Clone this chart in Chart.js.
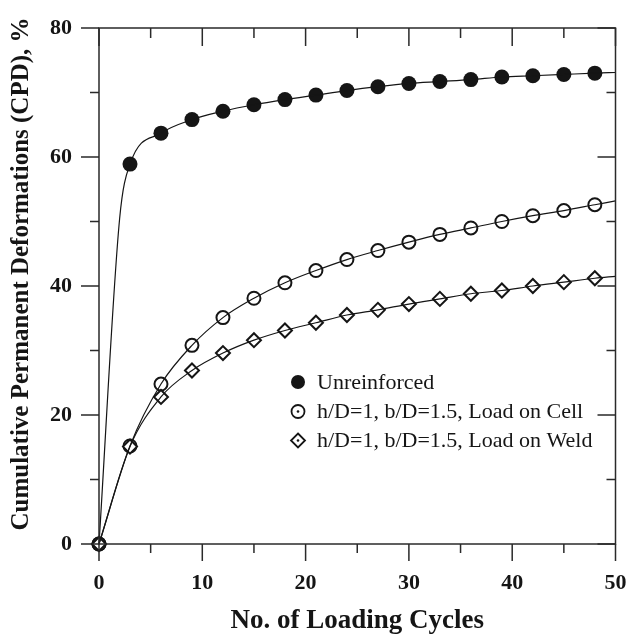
<!DOCTYPE html>
<html>
<head>
<meta charset="utf-8">
<script src="https://cdn.jsdelivr.net/npm/chart.js@4"></script>
<style>
  html, body { margin: 0; padding: 0; background: #fff; }
  #wrap { width: 628px; height: 636px; }
</style>
</head>
<body>
<div id="wrap"><canvas id="cpd"></canvas></div>
<script>
// loading cycles where markers were plotted
const cycles = [0, 3, 6, 9, 12, 15, 18, 21, 24, 27, 30, 33, 36, 39, 42, 45, 48];
const unreinforced = [0, 58.9, 63.7, 65.8, 67.1, 68.1, 68.9, 69.6, 70.3, 70.9, 71.4, 71.7, 72.0, 72.4, 72.6, 72.8, 73.0];
const loadOnCell = [0, 15.2, 24.8, 30.8, 35.1, 38.1, 40.5, 42.4, 44.1, 45.5, 46.8, 48.0, 49.0, 50.0, 50.9, 51.7, 52.6];
const loadOnWeld = [0, 15.1, 22.8, 26.9, 29.6, 31.6, 33.1, 34.3, 35.5, 36.3, 37.2, 38.0, 38.8, 39.3, 40.0, 40.6, 41.2];

// extra points of the fitted curves (no marker drawn there)
const unreinforcedCurveExtra = [[2, 50.5], [50, 73.1]];
const loadOnCellCurveExtra = [[50, 53.2]];
const loadOnWeldCurveExtra = [[50, 41.5]];

const seriesLabels = ['Unreinforced', 'h/D=1, b/D=1.5, Load on Cell', 'h/D=1, b/D=1.5, Load on Weld'];
const xTicks = [0, 10, 20, 30, 40, 50];
const yTicks = [0, 20, 40, 60, 80];
const yTitle = 'Cumulative Permanent Deformations (CPD), %';

const serif = '"Liberation Serif", "Times New Roman", serif';
const ink = '#151515';

const toPoints = (ys) => cycles.map((c, i) => ({ x: c, y: ys[i] }));
const curvePoints = (ys, extra) =>
    toPoints(ys).concat(extra.map(([x, y]) => ({ x, y }))).sort((a, b) => a.x - b.x);

// frame with inward ticks on top/right and outward ticks on bottom/left
const frameTicks = {
    id: 'frameTicks',
    afterDatasetsDraw(chart) {
        const { ctx, chartArea: a, scales: { x, y } } = chart;
        ctx.save();
        ctx.strokeStyle = '#2a2a2a';
        ctx.lineWidth = 1.5;
        ctx.strokeRect(a.left, a.top, a.right - a.left, a.bottom - a.top);
        ctx.beginPath();
        for (let v = x.min; v <= x.max; v += 5) {
            const px = x.getPixelForValue(v);
            const major = v % 10 === 0;
            ctx.moveTo(px, a.bottom);
            ctx.lineTo(px, a.bottom + (major ? 17 : 9));
            ctx.moveTo(px, a.top);
            ctx.lineTo(px, a.top + (major ? 18 : 10));
        }
        for (let v = y.min; v <= y.max; v += 10) {
            const py = y.getPixelForValue(v);
            const major = v % 20 === 0;
            ctx.moveTo(a.left, py);
            ctx.lineTo(a.left - (major ? 18 : 9), py);
            ctx.moveTo(a.right, py);
            ctx.lineTo(a.right - (major ? 18 : 9), py);
        }
        ctx.stroke();

        // rotated y title, sits a little above the plot centre like the original
        ctx.fillStyle = ink;
        ctx.font = 'bold 25px ' + serif;
        ctx.textAlign = 'center';
        ctx.textBaseline = 'middle';
        ctx.translate(22, 274);
        ctx.rotate(-Math.PI / 2);
        ctx.fillText(yTitle, 0, 0);
        ctx.restore();
    }
};

// legend inside the plot, markers with a centre dot like the original
const innerLegend = {
    id: 'innerLegend',
    afterDraw(chart) {
        const { ctx } = chart;
        const mx = 298, tx = 317;
        const rows = [382, 411.5, 440.5];
        ctx.save();
        ctx.fillStyle = ink;
        ctx.strokeStyle = ink;
        ctx.lineWidth = 1.8;
        // filled circle
        ctx.beginPath();
        ctx.arc(mx, rows[0], 7, 0, Math.PI * 2);
        ctx.fill();
        // open circle with dot
        ctx.beginPath();
        ctx.arc(mx, rows[1], 6.5, 0, Math.PI * 2);
        ctx.stroke();
        ctx.beginPath();
        ctx.arc(mx, rows[1], 1.3, 0, Math.PI * 2);
        ctx.fill();
        // diamond with dot
        ctx.beginPath();
        ctx.moveTo(mx, rows[2] - 7);
        ctx.lineTo(mx + 7, rows[2]);
        ctx.lineTo(mx, rows[2] + 7);
        ctx.lineTo(mx - 7, rows[2]);
        ctx.closePath();
        ctx.stroke();
        ctx.beginPath();
        ctx.arc(mx, rows[2], 1.3, 0, Math.PI * 2);
        ctx.fill();

        ctx.font = '22px ' + serif;
        ctx.textBaseline = 'middle';
        ctx.textAlign = 'left';
        seriesLabels.forEach((t, i) => ctx.fillText(t, tx, rows[i] + 1));
        ctx.restore();
    }
};

const lineStyle = {
    borderColor: ink,
    borderWidth: 1.2,
    pointRadius: 0,
    showLine: true,
    cubicInterpolationMode: 'monotone',
    fill: false,
    clip: false,
};

const markerStyle = {
    showLine: false,
    clip: false,
    borderColor: ink,
};

const ctx = document.getElementById('cpd').getContext('2d');
new Chart(ctx, {
    type: 'scatter',
    data: {
        datasets: [
            { ...lineStyle, data: curvePoints(unreinforced, unreinforcedCurveExtra) },
            { ...lineStyle, data: curvePoints(loadOnCell, loadOnCellCurveExtra) },
            { ...lineStyle, data: curvePoints(loadOnWeld, loadOnWeldCurveExtra) },
            { ...markerStyle, label: seriesLabels[2], data: toPoints(loadOnWeld),
              pointStyle: 'rectRot', pointRadius: 7, pointBorderWidth: 2, backgroundColor: '#fff' },
            { ...markerStyle, label: seriesLabels[1], data: toPoints(loadOnCell),
              pointStyle: 'circle', pointRadius: 6.5, pointBorderWidth: 2, backgroundColor: '#fff' },
            { ...markerStyle, label: seriesLabels[0], data: toPoints(unreinforced),
              pointStyle: 'circle', pointRadius: 7.5, pointBorderWidth: 0, backgroundColor: ink },
        ]
    },
    options: {
        responsive: true,
        maintainAspectRatio: false,
        animation: false,
        layout: { autoPadding: false, padding: { top: 28, right: 12.5, left: 0, bottom: 0 } },
        plugins: {
            legend: { display: false },
            tooltip: { enabled: false },
        },
        scales: {
            x: {
                type: 'linear',
                min: 0,
                max: 50,
                afterFit: (s) => {
                    s.height = 92;
                    s.paddingLeft = 0;
                    s.paddingRight = 0;
                },
                afterBuildTicks: (s) => { s.ticks = xTicks.map((v) => ({ value: v })); },
                grid: { display: false, drawTicks: false },
                border: { display: false },
                ticks: {
                    padding: 26,
                    color: ink,
                    font: { family: serif, size: 22, weight: 'bold' },
                },
                title: {
                    display: true,
                    text: 'No. of Loading Cycles',
                    color: ink,
                    font: { family: serif, size: 27, weight: 'bold', lineHeight: 1 },
                    padding: { top: 0, bottom: 1 },
                },
            },
            y: {
                min: 0,
                max: 80,
                afterFit: (s) => {
                    s.width = 99;
                    s.paddingTop = 0;
                    s.paddingBottom = 0;
                },
                afterBuildTicks: (s) => { s.ticks = yTicks.map((v) => ({ value: v })); },
                grid: { display: false, drawTicks: false },
                border: { display: false },
                ticks: {
                    padding: 27,
                    color: ink,
                    font: { family: serif, size: 22, weight: 'bold' },
                },
                title: { display: false },
            },
        },
    },
    plugins: [frameTicks, innerLegend],
});
</script>
</body>
</html>
